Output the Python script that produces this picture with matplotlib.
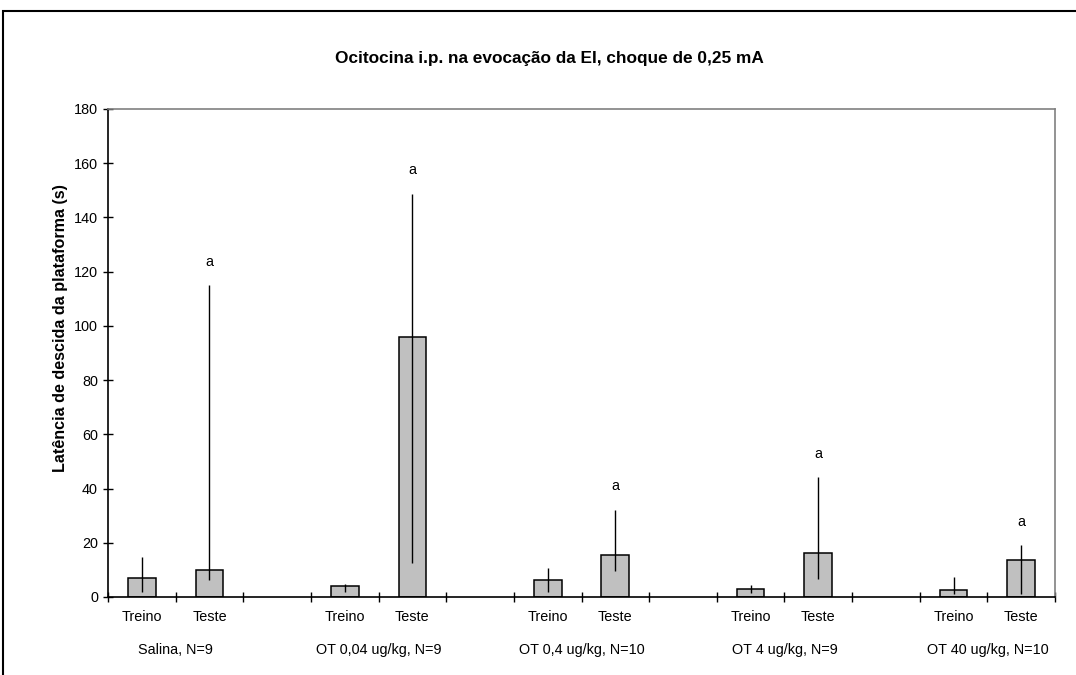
import matplotlib
matplotlib.use('Agg')
import matplotlib.pyplot as plt
from matplotlib.patches import Rectangle

plt.rcParams['font.family'] = ['Liberation Sans', 'DejaVu Sans']

# dados
groups = ['Salina, N=9', 'OT 0,04 ug/kg, N=9', 'OT 0,4 ug/kg, N=10',
          'OT 4 ug/kg, N=9', 'OT 40 ug/kg, N=10']
sessions = ['Treino', 'Teste']
treino = [7.0, 4.2, 6.4, 3.1, 2.6]
teste = [10.1, 96.0, 15.5, 16.1, 13.5]
treino_lo = [1.8, 2.0, 2.0, 1.6, 1.1]
treino_hi = [14.6, 4.8, 10.6, 4.4, 7.4]
teste_lo = [6.3, 12.4, 9.7, 6.5, 1.1]
teste_hi = [115.0, 148.7, 32.1, 44.1, 19.1]
sig_teste = ['a', 'a', 'a', 'a', 'a']
yticks = [0, 20, 40, 60, 80, 100, 120, 140, 160, 180]

fs = 10.4
fig = plt.figure(figsize=(10.76, 6.75), dpi=100)
ax = fig.add_axes([108 / 1076, 1 - 597 / 675, (1055 - 108) / 1076, (597 - 109) / 675])

# borda externa (cortada a direita e embaixo)
fig.patches.append(Rectangle((3 / 1076, -0.1), 1.2, 1 - 11 / 675 + 0.1,
                             transform=fig.transFigure, fill=False,
                             edgecolor='black', linewidth=1.5))

x_tr = [3 * i for i in range(len(groups))]
x_te = [3 * i + 1 for i in range(len(groups))]

ax.bar(x_tr, treino, width=0.41, color='#c0c0c0', edgecolor='black', linewidth=1.1, zorder=2)
ax.bar(x_te, teste, width=0.41, color='#c0c0c0', edgecolor='black', linewidth=1.1, zorder=2)
ax.vlines(x_tr, treino_lo, treino_hi, color='black', linewidth=1.0, zorder=3)
ax.vlines(x_te, teste_lo, teste_hi, color='black', linewidth=1.0, zorder=3)

for xi, hi, s in zip(x_te, teste_hi, sig_teste):
    ax.annotate(s, (xi, hi), xytext=(0, 17), textcoords='offset points',
                ha='center', va='center', fontsize=fs)

ax.set_xlim(-0.5, 13.5)
ax.set_ylim(0, 180)
ax.set_yticks(yticks)
ax.tick_params(axis='y', direction='inout', length=6.5, width=1, labelsize=fs, pad=4)
ax.set_xticks([i - 0.5 for i in range(15)])
ax.set_xticklabels([])
ax.tick_params(axis='x', direction='inout', length=6.5, width=1)

for sp in ['left', 'bottom']:
    ax.spines[sp].set_color('black')
    ax.spines[sp].set_linewidth(1.2)
for sp in ['top', 'right']:
    ax.spines[sp].set_color('#808080')
    ax.spines[sp].set_linewidth(1.2)

trans = ax.get_xaxis_transform()
for i, g in enumerate(groups):
    ax.text(x_tr[i], -0.041, sessions[0], transform=trans, ha='center', va='center', fontsize=fs)
    ax.text(x_te[i], -0.041, sessions[1], transform=trans, ha='center', va='center', fontsize=fs)
    ax.text((x_tr[i] + x_te[i]) / 2, -0.109, g, transform=trans, ha='center', va='center', fontsize=fs)

ax.set_ylabel('Latência de descida da plataforma (s)', fontsize=11.6, fontweight='bold')
ax.yaxis.set_label_coords(-40 / 947, (597 - 328) / 488)

fig.text(549 / 1076, 1 - 58 / 675, 'Ocitocina i.p. na evocação da EI, choque de 0,25 mA',
         ha='center', va='center', fontsize=12.4, fontweight='bold')

fig.savefig('out.png', dpi=100)
